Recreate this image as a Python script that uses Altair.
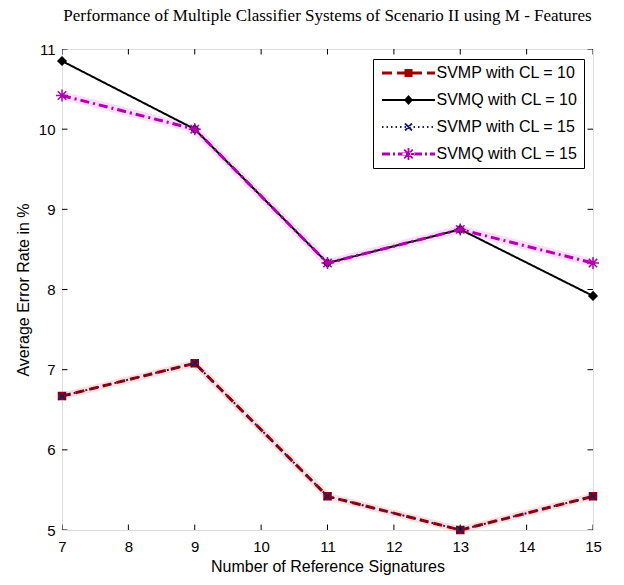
import math
import altair as alt
import pandas as pd

# ---------------- data ----------------
x_vals = [7, 9, 11, 13, 15]
series_names = ["SVMP with CL = 10", "SVMQ with CL = 10",
                "SVMP with CL = 15", "SVMQ with CL = 15"]
svmp_cl10 = [6.67, 7.08, 5.42, 5.00, 5.42]
svmq_cl10 = [10.85, 10.00, 8.33, 8.75, 7.92]
svmp_cl15 = [6.67, 7.08, 5.42, 5.00, 5.42]
svmq_cl15 = [10.42, 10.00, 8.33, 8.75, 8.33]
x_ticks = [7, 8, 9, 10, 11, 12, 13, 14, 15]
y_ticks = [5, 6, 7, 8, 9, 10, 11]
x_domain = [7, 15]
y_domain = [5, 11]

title_text = "Performance of Multiple Classifier Systems of Scenario II using M - Features"
x_title = "Number of Reference Signatures"
y_title = "Average Error Rate in %"

# ---------------- styles ----------------
colors = ["#a00000", "#000000", "#1c1c70", "#b000b0"]
dashes = [[9, 5], [1, 0], [2, 4], [9, 4, 2, 4]]
widths = [3, 2, 2, 3]
shape_paths = [
    "square",
    "diamond",
    "M-1,-1L1,1M-1,1L1,-1",
    "M-1,0H1M0,-1V1M-0.7,-0.7L0.7,0.7M-0.7,0.7L0.7,-0.7",
]
marker_sizes = [49, 64, 56, 144]

rows = []
for name, vals in zip(series_names, [svmp_cl10, svmq_cl10, svmp_cl15, svmq_cl15]):
    for xv, yv in zip(x_vals, vals):
        rows.append({"x": xv, "y": yv, "series": name})
df = pd.DataFrame(rows)

# ---------- legend symbols as filled outlines, drawn in px then scaled ----------
SYM_SIZE = 256
R = math.sqrt(SYM_SIZE) / 2.0   # px per path unit
HALF = 26.5                     # half length of legend sample line (px)


def f(v):
    return f"{v / R:.3f}"


def rect(x0, x1, h):
    return f"M{f(x0)},{f(-h)}H{f(x1)}V{f(h)}H{f(x0)}Z"


def seg_fill(pattern, h):
    parts, pos, i = [], -HALF, 0
    while pos < HALF - 1e-9:
        L = pattern[i % len(pattern)]
        if i % 2 == 0:
            parts.append(rect(pos, min(pos + L, HALF), h))
        pos += L
        i += 1
    return "".join(parts)


def thick(x0, y0, x1, y1, w):
    dx, dy = x1 - x0, y1 - y0
    n = math.hypot(dx, dy)
    px, py = -dy / n * w, dx / n * w
    pts = [(x0 + px, y0 + py), (x1 + px, y1 + py), (x1 - px, y1 - py), (x0 - px, y0 - py)]
    return "M" + "L".join(f"{f(a)},{f(b)}" for a, b in pts) + "Z"


def square(s):
    return f"M{f(-s)},{f(-s)}H{f(s)}V{f(s)}H{f(-s)}Z"


def diamond(w, h):
    return f"M0,{f(-h)}L{f(w)},0L0,{f(h)}L{f(-w)},0Z"


legend_paths = [
    seg_fill([10, 5], 1.5) + square(4),
    rect(-HALF, HALF, 1.0) + diamond(4.5, 5),
    seg_fill([1.5, 3], 1.0) + thick(-3.5, -3.5, 3.5, 3.5, 0.9) + thick(-3.5, 3.5, 3.5, -3.5, 0.9),
    seg_fill([8, 3, 2, 3], 1.5)
    + thick(-6, 0, 6, 0, 0.9) + thick(0, -6, 0, 6, 0.9)
    + thick(-4.3, -4.3, 4.3, 4.3, 0.9) + thick(-4.3, 4.3, 4.3, -4.3, 0.9),
]
sym_expr = "'M-1,0H1'"
for name, p in reversed(list(zip(series_names, legend_paths))):
    sym_expr = f"datum.value === '{name}' ? '{p}' : ({sym_expr})"

FONT = "Liberation Sans"

x_enc = alt.X("x:Q", scale=alt.Scale(domain=x_domain, nice=False, zero=False),
              axis=alt.Axis(values=x_ticks, title=x_title, ticks=False, domain=False,
                            grid=False, labelPadding=9, labelFont=FONT, labelFontSize=15,
                            labelColor="black", titleFont=FONT, titleFontSize=16,
                            titleFontWeight="normal", titleColor="black", titlePadding=4,
                            labelFlush=False))
y_enc = alt.Y("y:Q", scale=alt.Scale(domain=y_domain, nice=False, zero=False),
              axis=alt.Axis(values=y_ticks, title=y_title, ticks=False, domain=False,
                            grid=False, labelPadding=7, labelFont=FONT, labelFontSize=15,
                            labelColor="black", titleFont=FONT, titleFontSize=16,
                            titleFontWeight="normal", titleColor="black", titlePadding=7,
                            labelFlush=False))

base = alt.Chart(df)

# invisible carrier layer that owns the legend
carrier = base.mark_line(opacity=0).encode(
    x=x_enc, y=y_enc,
    color=alt.Color("series:N", scale=alt.Scale(domain=series_names, range=colors),
                    legend=alt.Legend(
                        title=None, orient="none", legendX=311, legendY=10,
                        direction="vertical",
                        symbolType=alt.ExprRef(sym_expr),
                        symbolFillColor=alt.ExprRef("scale('color', datum.value)"),
                        symbolSize=SYM_SIZE, symbolStrokeWidth=0, symbolOpacity=1,
                        symbolOffset=21.5,
                        labelFont=FONT, labelFontSize=16, labelColor="black",
                        labelOffset=20, rowPadding=11, padding=6,
                        fillColor="white", strokeColor="black")),
)

halo_red = base.transform_filter(alt.datum.series == series_names[0]).mark_line(
    color="#f08080", strokeWidth=7, opacity=0.25).encode(x=x_enc, y=y_enc)
halo_mag = base.transform_filter(alt.datum.series == series_names[3]).mark_line(
    color="#f080f0", strokeWidth=8, opacity=0.28).encode(x=x_enc, y=y_enc)

series_layers = []
for name, col, dsh, wd, shp, sz in zip(series_names, colors, dashes, widths,
                                       shape_paths, marker_sizes):
    sub = base.transform_filter(alt.datum.series == name)
    series_layers.append(
        sub.mark_line(color=col, strokeDash=dsh, strokeWidth=wd).encode(x=x_enc, y=y_enc))
    series_layers.append(
        sub.mark_point(filled=True, opacity=1, strokeWidth=1.5, shape=shp, size=sz,
                       fill=col, stroke=col).encode(x=x_enc, y=y_enc))

tick_bottom = pd.DataFrame({"x": x_ticks, "y": [y_domain[0]] * len(x_ticks)})
tick_top = pd.DataFrame({"x": x_ticks, "y": [y_domain[1]] * len(x_ticks)})
tick_left = pd.DataFrame({"x": [x_domain[0]] * len(y_ticks), "y": y_ticks})
tick_right = pd.DataFrame({"x": [x_domain[1]] * len(y_ticks), "y": y_ticks})

tick_layers = []
for tdf, orient in [(tick_bottom, "vertical"), (tick_top, "vertical"),
                    (tick_left, "horizontal"), (tick_right, "horizontal")]:
    tick_layers.append(
        alt.Chart(tdf).mark_tick(orient=orient, size=11, thickness=1, color="black",
                                 clip=True, opacity=1).encode(x=x_enc, y=y_enc)
    )

chart = alt.layer(carrier, halo_red, halo_mag, *series_layers, *tick_layers).properties(
    width=531, height=481,
    title=alt.TitleParams(title_text, font="Liberation Serif", fontSize=17,
                          fontWeight="normal", color="black", anchor="middle", offset=17),
    autosize=alt.AutoSizeParams(type="none"),
    padding={"left": 62, "top": 49, "right": 31, "bottom": 55},
).configure_view(stroke="black", strokeWidth=1).configure(background="white")

chart.save("out.html", embed_options={"renderer": "svg", "actions": False})
